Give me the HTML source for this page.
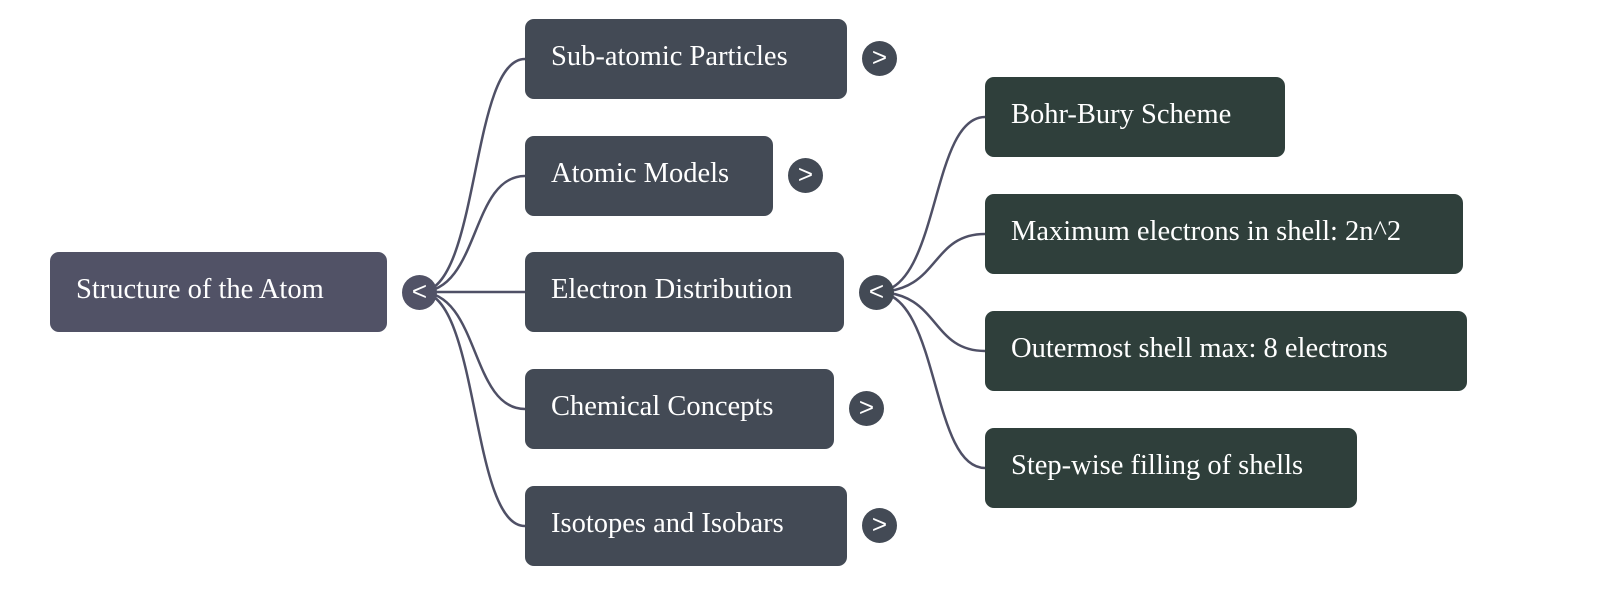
<!DOCTYPE html>
<html><head><style>
body{margin:0;width:1600px;height:597px;background:#fff;position:relative;overflow:hidden;font-family:"Liberation Serif",serif;}
.b{position:absolute;height:80px;border-radius:9px;color:#fff;font-size:28.5px;line-height:76px;padding-left:26px;box-sizing:border-box;white-space:nowrap;}
.r{background:#515266}.l{background:#434a55}.g{background:#2f3f3b}
.c{position:absolute;width:35px;height:35px;border-radius:50%;background:#434a55;color:#fff;font-family:"Liberation Sans",sans-serif;font-size:26px;line-height:33px;text-align:center;}
</style></head><body>
<svg width="1600" height="597" style="position:absolute;left:0;top:0" fill="none" stroke="#4f5066" stroke-width="2.5">
<path d="M420 292 C480 292,470 59,525 59"/>
<path d="M420 292 C480 292,470 176,525 176"/>
<path d="M420 292 L525 292"/>
<path d="M420 292 C480 292,470 409,525 409"/>
<path d="M420 292 C480 292,470 526,525 526"/>
<path d="M876 292 C940 292,930 117,985 117"/>
<path d="M876 292 C940 292,930 234,985 234"/>
<path d="M876 292 C940 292,930 351,985 351"/>
<path d="M876 292 C940 292,930 468,985 468"/>
</svg>
<div class="b r" style="left:50px;top:252px;width:337px">Structure of the Atom</div>
<div class="c" style="left:402px;top:275px;background:#515266">&lt;</div>
<div class="b l" style="left:525px;top:19px;width:322px">Sub-atomic Particles</div>
<div class="c" style="left:862px;top:41px">&gt;</div>
<div class="b l" style="left:525px;top:136px;width:248px">Atomic Models</div>
<div class="c" style="left:788px;top:158px">&gt;</div>
<div class="b l" style="left:525px;top:252px;width:319px">Electron Distribution</div>
<div class="c" style="left:859px;top:275px">&lt;</div>
<div class="b l" style="left:525px;top:369px;width:309px">Chemical Concepts</div>
<div class="c" style="left:849px;top:391px">&gt;</div>
<div class="b l" style="left:525px;top:486px;width:322px">Isotopes and Isobars</div>
<div class="c" style="left:862px;top:508px">&gt;</div>
<div class="b g" style="left:985px;top:77px;width:300px">Bohr-Bury Scheme</div>
<div class="b g" style="left:985px;top:194px;width:478px">Maximum electrons in shell: 2n^2</div>
<div class="b g" style="left:985px;top:311px;width:482px">Outermost shell max: 8 electrons</div>
<div class="b g" style="left:985px;top:428px;width:372px">Step-wise filling of shells</div>
</body></html>
